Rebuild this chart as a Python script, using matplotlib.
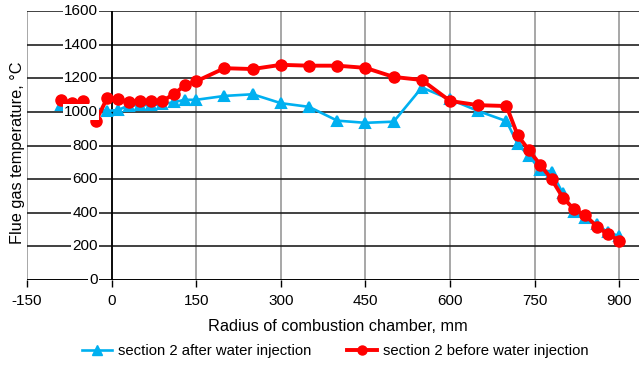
import matplotlib
matplotlib.use("Agg")
import matplotlib.pyplot as plt
from matplotlib.lines import Line2D

plt.rcParams['font.family'] = ['Liberation Sans', 'DejaVu Sans']

# Data
x_after = [-90, -70, -50, -8, 12, 30, 50, 70, 90, 110, 130, 150, 200, 250, 300, 350, 400, 450,
           500, 550, 600, 650, 700, 720, 740, 760, 780, 800, 820, 840, 860, 880, 900]
y_after = [1040, 1040, 1040, 1005, 1012, 1038, 1040, 1040, 1045, 1058, 1072, 1072, 1095, 1105,
           1052, 1030, 948, 935, 942, 1145, 1075, 1005, 945, 808, 738, 655, 645, 515, 405, 368,
           333, 283, 262]
x_before = [-90, -70, -50, -28, -8, 11, 30, 50, 70, 90, 110, 130, 150, 200, 250, 300, 350, 400,
            450, 500, 550, 600, 650, 700, 720, 740, 760, 780, 800, 820, 840, 860, 880, 900]
y_before = [1070, 1055, 1065, 945, 1082, 1075, 1060, 1065, 1065, 1065, 1105, 1158, 1182, 1260,
            1255, 1280, 1275, 1275, 1262, 1208, 1190, 1065, 1040, 1035, 860, 772, 685, 600, 490,
            420, 385, 318, 272, 235]
x_ticks = [-150, 0, 150, 300, 450, 600, 750, 900]
y_ticks = [0, 200, 400, 600, 800, 1000, 1200, 1400, 1600]
label_after = "section 2 after water injection"
label_before = "section 2 before water injection"
x_title = "Radius of combustion chamber, mm"
y_title = "Flue gas temperature, °C"

blue = "#00B0F0"
red = "#FF0000"
fs_tick = 11
fs_title = 11.7
fs_leg = 10.7

fig = plt.figure(figsize=(6.39, 3.68), dpi=100)
ax = fig.add_axes([0.0423, 0.2391, 0.9577, 0.7309])
ax.set_xlim(-150, 935)
ax.set_ylim(0, 1600)
for s in ax.spines.values():
    s.set_visible(False)

# gridlines
for xv in x_ticks:
    ax.axvline(xv, color="#A0A0A0", lw=1.3, zorder=0.5)
for yv in y_ticks:
    ax.axhline(yv, color="#202020", lw=1.2, zorder=0.6)
ax.axvline(0, color="black", lw=1.3, zorder=0.7)
ax.axhline(0, color="black", lw=1.3, zorder=0.7)

ax.plot(x_after, y_after, color=blue, lw=1.9, marker="^", ms=7.5, mec=blue, mew=1.5,
        zorder=3, label=label_after)
ax.plot(x_before, y_before, color=red, lw=2.8, marker="o", ms=8, mec=red,
        zorder=4, label=label_before)

# y tick labels with white background
ax.set_yticks([])
for yv in y_ticks:
    ax.text(-24, yv, str(yv), ha="right", va="center", fontsize=fs_tick, zorder=10,
            bbox=dict(facecolor="white", edgecolor="none", pad=1.0))

ax.set_xticks(x_ticks)
ax.set_xticklabels([str(v) for v in x_ticks], fontsize=fs_tick)
ax.tick_params(axis="x", direction="out", length=5, width=1, color="black", pad=5)

ax.set_xlabel(x_title, fontsize=fs_title)
ax.xaxis.set_label_coords(0.508, -0.145)
fig.text(0.028, 0.584, y_title, rotation=90, ha="center", va="center", fontsize=fs_title)

handles = [Line2D([], [], color=blue, lw=1.9, marker="^", ms=7),
           Line2D([], [], color=red, lw=2.8, marker="o", ms=6.5)]
fig.legend(handles, [label_after, label_before], loc="center", ncol=2,
           bbox_to_anchor=(0.525, 0.046), frameon=False, fontsize=fs_leg,
           handlelength=2.0, handletextpad=0.4, columnspacing=2.4)

fig.savefig("out.png", dpi=100)
